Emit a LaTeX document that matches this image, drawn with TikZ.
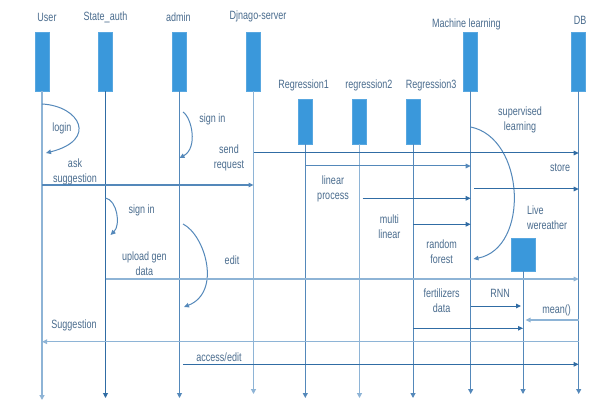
\documentclass[tikz,border=0pt]{standalone}
\usepackage{fontspec}
\setmainfont{Liberation Sans}[FakeStretch=0.75]
\usetikzlibrary{arrows.meta}
\definecolor{boxc}{RGB}{58,152,219}
\definecolor{txt}{RGB}{74,108,142}
\definecolor{dk}{RGB}{48,108,164}
\definecolor{md}{RGB}{84,136,186}
\definecolor{lt}{RGB}{142,180,214}
\begin{document}
\begin{tikzpicture}[x=1pt,y=-1pt,
  lbl/.style={font=\fontsize{12}{15}\selectfont, text=txt, inner sep=0pt, align=center},
  obj/.style={fill=boxc, draw=boxc!85!white, line width=0.5pt, minimum width=14pt, inner sep=0pt},
  life/.style={line width=1pt, -{Triangle[length=5pt,width=5pt]}},
  msg/.style={line width=1pt, -{Triangle[length=5pt,width=4.5pt]}},
  plain/.style={line width=1pt}]
\useasboundingbox[fill=white] (0,0) rectangle (591,403);

% objects
\node[obj, minimum height=59pt] (user)   at (42,61.5) {};
\node[obj, minimum height=59pt] (state)  at (105.5,61.5) {};
\node[obj, minimum height=59pt] (admin)  at (179.5,61.5) {};
\node[obj, minimum height=59pt] (django) at (253.5,61.5) {};
\node[obj, minimum height=45pt] (reg1)   at (305.3,121.5) {};
\node[obj, minimum height=45pt] (reg2)   at (359.5,121.5) {};
\node[obj, minimum height=45pt] (reg3)   at (413,121.5) {};
\node[obj, minimum height=59pt] (ml)     at (470.7,61.5) {};
\node[obj, minimum height=59pt] (db)     at (578.7,61.5) {};
\node[obj, minimum height=33pt, minimum width=24pt] (live) at (523,254.5) {};

% titles
\node[lbl] (tuser)   at (47,17)    {User};
\node[lbl] (tstate)  at (105.5,17.5) {State\_auth};
\node[lbl] (tadmin)  at (178.3,17) {admin};
\node[lbl] (tdjango) at (258,16)   {Djnago-server};
\node[lbl] (treg1)   at (303.7,85.5) {Regression1};
\node[lbl] (treg2)   at (368.8,85.5) {regression2};
\node[lbl] (treg3)   at (431.2,85.5) {Regression3};
\node[lbl] (tml)     at (466.3,24.5) {Machine learning};
\node[lbl] (tdb)     at (580,20.5) {DB};

% lifelines
\draw[life, lt, line width=1.6pt] (user.south)   -- (user.south |- 0,400);
\draw[life, dk] (state.south)  -- (state.south |- 0,398);
\draw[life, md] (admin.south)  -- (admin.south |- 0,398);
\draw[life, lt, line width=1.6pt] (django.south) -- (django.south |- 0,394);
\draw[life, md] (reg1.south)   -- (reg1.south |- 0,398);
\draw[life, lt, line width=1.4pt] (reg2.south)   -- (reg2.south |- 0,398);
\draw[life, md] (reg3.south)   -- (reg3.south |- 0,398);
\draw[life, md] (ml.south)     -- (ml.south |- 0,394);
\draw[life, md] (live.south)   -- (live.south |- 0,394);
\draw[life, md] (db.south)     -- (db.south |- 0,394);

% self messages
\coordinate (login0) at (user |- 0,104);
\coordinate (login1) at (46,153);
\draw[msg, md] (login0) .. controls (80,106) and (98,140) .. (login1);
\node[lbl] (llogin) at (62,128) {login};

\coordinate (asign0) at (183,112);
\coordinate (asign1) at (admin |- 0,158);
\draw[msg, md] (asign0) .. controls (192,118) and (198,148) .. (asign1);
\node[lbl] (lasign) at (212.5,119.5) {sign in};

\coordinate (ssign0) at (state |- 0,198);
\coordinate (ssign1) at (110.5,235);
\draw[msg, md] (ssign0) .. controls (117,200) and (121,225) .. (ssign1);
\node[lbl] (lssign) at (141.7,210.5) {sign in};

\coordinate (edit0) at (183,224);
\coordinate (edit1) at (184,307);
\draw[msg, md] (edit0) .. controls (205,235) and (222,292) .. (edit1);
\node[lbl] (ledit) at (232,260) {edit};

\coordinate (sup0) at (ml |- 0,127);
\coordinate (sup1) at (473.5,259);
\draw[msg, md] (sup0) .. controls (525,138) and (530,248) .. (sup1);
\node[lbl] (lsup) at (520,120) {supervised\\learning};

% messages
\draw[msg, dk] (django |- 0,153) -- (db |- 0,153);
\node[lbl] (lsend) at (229,158) {send\\request};

\draw[msg, md, line width=1.2pt] (user |- 0,185) -- (django |- 0,185);
\node[lbl] (lask) at (75,171.5) {ask\\suggestion};

\draw[msg, md] (reg1 |- 0,166) -- (ml |- 0,166);
\node[lbl] (llin) at (333,189) {linear\\process};
\draw[msg, dk] (362.5,198.3) -- (ml |- 0,198.3);

\draw[msg, dk] (474,189) -- (db |- 0,189);
\node[lbl] (lstore) at (560,168) {store};

\draw[msg, dk] (reg3 |- 0,224.3) -- (ml |- 0,224.3);
\node[lbl] (lmulti) at (389.3,227) {multi\\linear};

\node[lbl] (lrf) at (441.7,251.5) {random\\forest};
\node[lbl, align=left, anchor=west] (llive) at (527,218) {Live\\wereather};

\draw[msg, lt, line width=1.6pt] (state |- 0,279) -- (db |- 0,279);
\node[lbl] (lupload) at (144.3,263.5) {upload gen\\data};

\node[lbl] (lfert) at (441.7,301) {fertilizers\\data};
\draw[msg, dk] (ml |- 0,306) -- (521,306);
\node[lbl] (lrnn) at (500,293.5) {RNN};
\draw[msg, lt, line width=1.4pt] (db |- 0,320) -- (525.5,320);
\node[lbl] (lmean) at (556.7,310.5) {mean()};
\draw[msg, dk] (reg3 |- 0,328.3) -- (live |- 0,328.3);

\draw[msg, lt, line width=1.5pt] (db |- 0,341.7) -- (user |- 0,341.7);
\node[lbl] (lsugg) at (74,325.5) {Suggestion};

\draw[msg, dk] (183.3,364.3) -- (db |- 0,364.3);
\node[lbl] (lacc) at (219,357) {access/edit};
\end{tikzpicture}
\end{document}
